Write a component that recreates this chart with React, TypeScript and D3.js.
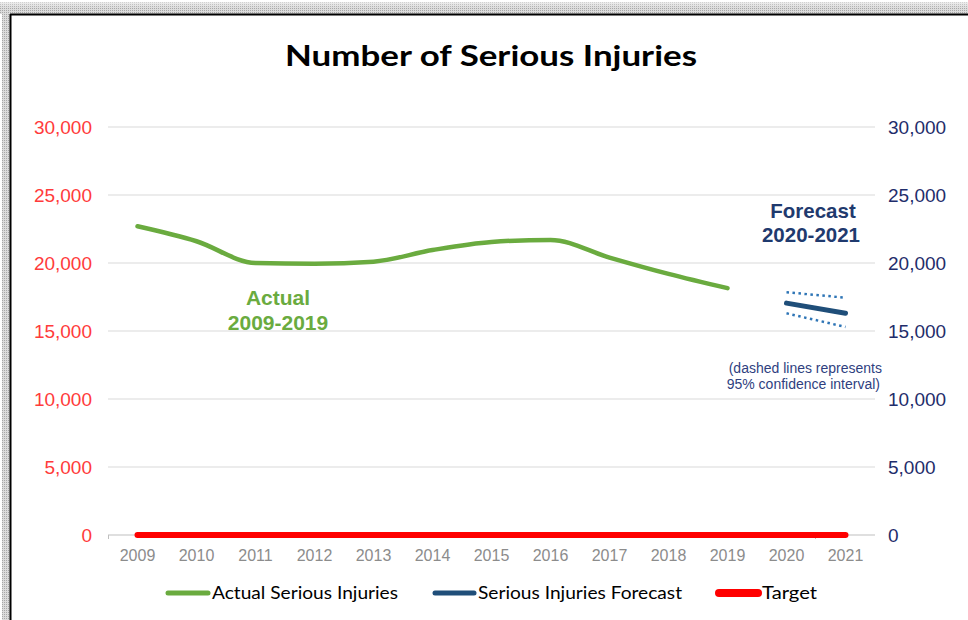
import * as d3 from 'd3';
import { useEffect } from 'react';

const years = ['2009', '2010', '2011', '2012', '2013', '2014', '2015', '2016', '2017', '2018', '2019', '2020', '2021'];
const actualYears = ['2009', '2010', '2011', '2012', '2013', '2014', '2015', '2016', '2017', '2018', '2019'];
const actualValues = [22700, 21600, 20000, 19950, 20100, 20950, 21550, 21700, 20400, 19200, 18150];
const forecastYears = ['2020', '2021'];
const forecastValues = [17050, 16300];
const upperValues = [17850, 17450];
const lowerValues = [16300, 15300];
const targetValues = years.map(() => 0);
const yTicks = [0, 5000, 10000, 15000, 20000, 25000, 30000];

const W = 968;
const H = 620;
const plot = { left: 108, right: 875, top: 127, bottom: 535 };

export default function App() {
  useEffect(() => {
    document.body.style.margin = '0';
  }, []);

  const x = d3.scaleBand().domain(years).range([plot.left, plot.right]).padding(0);
  const y = d3.scaleLinear().domain([0, 30000]).range([plot.bottom, plot.top]);
  const cx = (yr: string) => x(yr)! + x.bandwidth() / 2;
  const fmt = d3.format(',');

  const line = d3
    .line<[string, number]>()
    .x((d) => cx(d[0]))
    .y((d) => y(d[1]));
  const smooth = d3
    .line<[string, number]>()
    .x((d) => cx(d[0]))
    .y((d) => y(d[1]))
    .curve(d3.curveMonotoneX);

  const zip = (ks: string[], vs: number[]) => ks.map((k, i) => [k, vs[i]] as [string, number]);

  const arial = 'Arial, "Liberation Sans", sans-serif';
  const calibri = 'Lato, "Open Sans", sans-serif';

  return (
    <svg width={W} height={H} style={{ display: 'block' }}>
      <defs>
        <pattern id="shade" width="2" height="2" patternUnits="userSpaceOnUse">
          <rect width="2" height="2" fill="#dcdcdc" />
          <rect width="1" height="1" fill="#a8a8a8" />
        </pattern>
        <linearGradient id="topShade" x1="0" y1="0" x2="0" y2="1">
          <stop offset="0" stopColor="#fff" stopOpacity="0.7" />
          <stop offset="1" stopColor="#fff" stopOpacity="0" />
        </linearGradient>
      </defs>
      <rect x={0} y={0} width={W} height={H} fill="#fff" />
      <rect x={0} y={2} width={W} height={12} fill="url(#shade)" />
      <rect x={2} y={2} width={8} height={H} fill="url(#shade)" />
      <rect x={0} y={0} width={W} height={8} fill="url(#topShade)" />
      <line x1={10} x2={W} y1={14.5} y2={14.5} stroke="#000" strokeWidth={2} />
      <line x1={10.5} x2={10.5} y1={14} y2={H} stroke="#000" strokeWidth={2} />

      <text
        x={491}
        y={66}
        textAnchor="middle"
        fontFamily={calibri}
        fontWeight="bold"
        fontSize={29}
        textLength={412}
        lengthAdjust="spacingAndGlyphs"
        fill="#000"
      >
        Number of Serious Injuries
      </text>

      {yTicks.map((t) => (
        <g key={t}>
          {t > 0 && (
            <line x1={plot.left} x2={plot.right} y1={y(t)} y2={y(t)} stroke="#d9d9d9" strokeWidth={1} />
          )}
          <text x={92} y={y(t) + 7} textAnchor="end" fontFamily={arial} fontSize={19} fill="#ff3b3b">
            {fmt(t)}
          </text>
          <text x={888} y={y(t) + 7} textAnchor="start" fontFamily={arial} fontSize={19} fill="#1f2d6b">
            {fmt(t)}
          </text>
        </g>
      ))}

      <line x1={plot.left} x2={plot.right} y1={plot.bottom} y2={plot.bottom} stroke="#bfbfbf" strokeWidth={1} />
      <line x1={plot.left + 0.5} x2={plot.left + 0.5} y1={plot.bottom} y2={plot.bottom + 4} stroke="#bfbfbf" />
      <line x1={x('2021')! - 0.5} x2={x('2021')! - 0.5} y1={plot.bottom} y2={plot.bottom + 4} stroke="#bfbfbf" />

      {years.map((yr) => (
        <text key={yr} x={cx(yr)} y={561} textAnchor="middle" fontFamily={arial} fontSize={16} fill="#8c8c8c">
          {yr}
        </text>
      ))}

      <path
        d={smooth(zip(actualYears, actualValues))!}
        fill="none"
        stroke="#6aab3f"
        strokeWidth={4.5}
        strokeLinecap="round"
        strokeLinejoin="round"
      />
      <path
        d={line(zip(forecastYears, upperValues))!}
        fill="none"
        stroke="#2e75b6"
        strokeWidth={2.5}
        strokeDasharray="2.5 3.5"
      />
      <path
        d={line(zip(forecastYears, lowerValues))!}
        fill="none"
        stroke="#2e75b6"
        strokeWidth={2.5}
        strokeDasharray="2.5 3.5"
      />
      <path
        d={line(zip(forecastYears, forecastValues))!}
        fill="none"
        stroke="#1f4e79"
        strokeWidth={5}
        strokeLinecap="round"
      />
      <path
        d={line(zip(years, targetValues))!}
        fill="none"
        stroke="#ff0000"
        strokeWidth={6}
        strokeLinecap="round"
      />

      <g fontFamily={arial} fontWeight="bold" fontSize={21} fill="#6aab3f" textAnchor="middle">
        <text x={278} y={305}>Actual</text>
        <text x={278} y={330}>2009-2019</text>
      </g>
      <g fontFamily={arial} fontWeight="bold" fontSize={20.5} fill="#1f3a6e" textAnchor="middle">
        <text x={813} y={218}>Forecast</text>
        <text x={811} y={242}>2020-2021</text>
      </g>
      <g fontFamily={arial} fontSize={14} fill="#2f3f7f" textAnchor="end">
        <text x={882} y={373}>(dashed lines represents</text>
        <text x={880} y={389}>95% confidence interval)</text>
      </g>

      <g fontFamily={calibri} fontSize={17} fill="#000">
        <line x1={168} x2={208} y1={593} y2={593} stroke="#6aab3f" strokeWidth={5} strokeLinecap="round" />
        <text x={212} y={599} textLength={186} lengthAdjust="spacingAndGlyphs">
          Actual Serious Injuries
        </text>
        <line x1={435} x2={474} y1={593} y2={593} stroke="#1f4e79" strokeWidth={5} strokeLinecap="round" />
        <text x={478} y={599} textLength={204} lengthAdjust="spacingAndGlyphs">
          Serious Injuries Forecast
        </text>
        <line x1={719} x2={758} y1={593} y2={593} stroke="#ff0000" strokeWidth={8} strokeLinecap="round" />
        <text x={762} y={599} textLength={55} lengthAdjust="spacingAndGlyphs">
          Target
        </text>
      </g>
    </svg>
  );
}
